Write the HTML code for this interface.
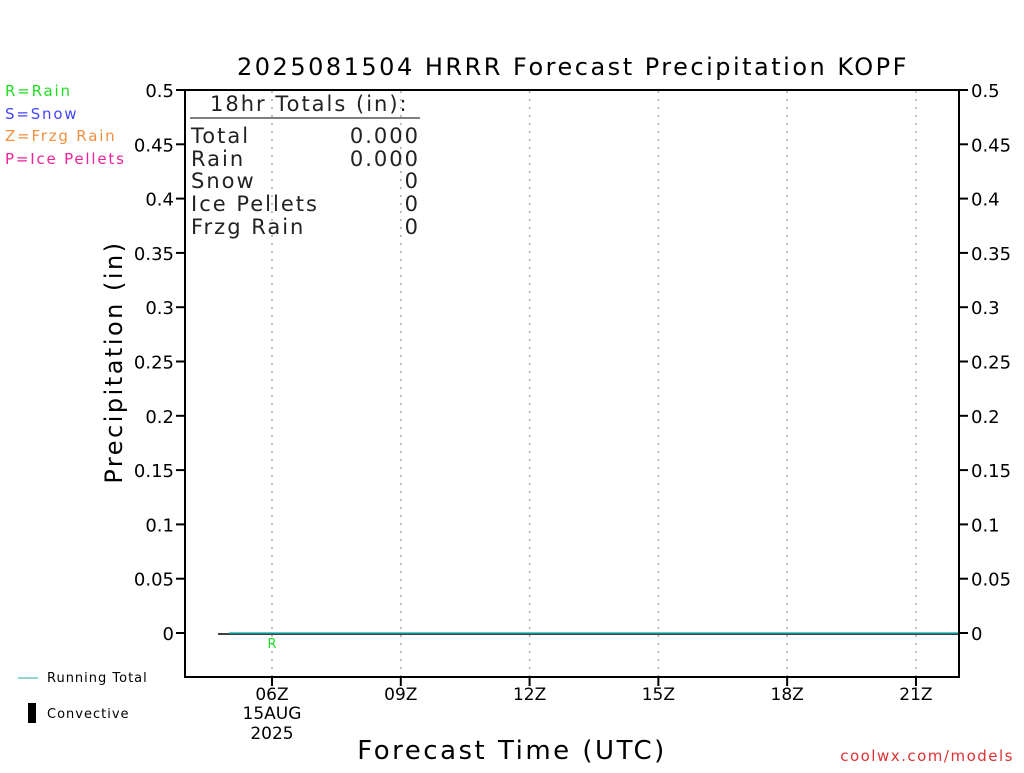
<!DOCTYPE html>
<html><head><meta charset="utf-8"><style>
body{margin:0;background:#fff;width:1024px;height:768px;overflow:hidden}
svg text{font-family:"DejaVu Sans","Liberation Sans",sans-serif}
</style></head><body>
<svg id="chart" width="1024" height="768" xmlns="http://www.w3.org/2000/svg">
<text x="573" y="75" font-size="24" text-anchor="middle" fill="#000" style="letter-spacing:2.5px">2025081504 HRRR Forecast Precipitation KOPF</text>
<g font-size="15" style="letter-spacing:1.8px">
<text x="5" y="96" fill="#22dd22">R=Rain</text>
<text x="5" y="119" fill="#4444ff">S=Snow</text>
<text x="5" y="141" fill="#f09040">Z=Frzg Rain</text>
<text x="5" y="164" fill="#ee2299">P=Ice Pellets</text>
</g>
<g id="grid"></g>
<g id="series"></g>
<rect x="185" y="90" width="774" height="587" fill="none" stroke="#000" stroke-width="2"/>
<g id="axes"></g>
<g font-size="21" fill="#222" style="letter-spacing:2px">
<text x="210" y="111">18hr Totals (in):</text>
<line x1="190" y1="118" x2="420" y2="118" stroke="#000" stroke-width="1"/>
<text x="191" y="143">Total</text><text x="420" y="143" text-anchor="end">0.000</text>
<text x="191" y="166">Rain</text><text x="420" y="166" text-anchor="end">0.000</text>
<text x="191" y="188">Snow</text><text x="420" y="188" text-anchor="end">0</text>
<text x="191" y="211">Ice Pellets</text><text x="420" y="211" text-anchor="end">0</text>
<text x="191" y="234">Frzg Rain</text><text x="420" y="234" text-anchor="end">0</text>
</g>
<text transform="translate(122,362) rotate(-90)" font-size="24" text-anchor="middle" style="letter-spacing:2.5px">Precipitation (in)</text>
<text x="512" y="759" font-size="26" text-anchor="middle" style="letter-spacing:2.5px">Forecast Time (UTC)</text>
<g font-size="13" style="letter-spacing:1px">
<line x1="18" y1="678" x2="38" y2="678" stroke="#22aaaa" stroke-width="1"/>
<text x="47" y="682">Running Total</text>
<rect x="28" y="703" width="8" height="20" fill="#000"/>
<text x="47" y="718">Convective</text>
</g>
<text x="1014" y="761" font-size="15" fill="#dd3333" text-anchor="end" style="letter-spacing:1.5px">coolwx.com/models</text>
</svg>
<script>
const hours=[5,6,7,8,9,10,11,12,13,14,15,16,17,18,19,20,21,22];
const runningTotal=[0,0,0,0,0,0,0,0,0,0,0,0,0,0,0,0,0,0];
const yTicks=[0,0.05,0.1,0.15,0.2,0.25,0.3,0.35,0.4,0.45,0.5];
const yLabels=["0","0.05","0.1","0.15","0.2","0.25","0.3","0.35","0.4","0.45","0.5"];
const xTicks=[6,9,12,15,18,21];
const xLabels=["06Z","09Z","12Z","15Z","18Z","21Z"];
const NS="http://www.w3.org/2000/svg";
const X=h=>272+(h-6)*42.93;
const Y=v=>633-v*1086;
function mk(tag,attrs,parent,txt){const e=document.createElementNS(NS,tag);for(const k in attrs)e.setAttribute(k,attrs[k]);if(txt!==undefined)e.textContent=txt;parent.appendChild(e);return e;}
const grid=document.getElementById('grid'),axes=document.getElementById('axes'),ser=document.getElementById('series');
yTicks.forEach((t,i)=>{
 const y=Y(t);
 const l=mk('line',{x1:176,y1:y,x2:185,y2:y,stroke:'#000','stroke-width':2},axes);
 
 
 const r=mk('line',{x1:959,y1:y,x2:968,y2:y,stroke:'#000','stroke-width':2},axes);
 
 
 const a=mk('text',{x:174,y:y+7,'font-size':18,'text-anchor':'end'},axes,yLabels[i]);
 
 
 const b=mk('text',{x:971,y:y+7,'font-size':18},axes,yLabels[i]);
 
 
});
xTicks.forEach((h,i)=>{
 const x=X(h);
 const g=mk('line',{x1:x,y1:91,x2:x,y2:676,stroke:'#aaa','stroke-width':1.5,'stroke-dasharray':'2,6'},grid);
 
 
 const t=mk('line',{x1:x,y1:677,x2:x,y2:686,stroke:'#000','stroke-width':2},axes);
 
 
 const lb=mk('text',{x:x,y:700,'font-size':17,'text-anchor':'middle'},axes,xLabels[i]);
 
 
});
const d1=mk('text',{x:X(6),y:719,'font-size':17,'text-anchor':'middle'},axes,'15AUG');


const d2=mk('text',{x:X(6),y:739,'font-size':17,'text-anchor':'middle'},axes,'2025');


const zl=mk('line',{x1:X(hours[0])-11,y1:Y(0)+1,x2:959,y2:Y(0)+1,stroke:'#000','stroke-width':1.5},ser);


const pts=hours.map((h,i)=>X(h)+','+Y(runningTotal[i])).join(' ');
const pl=mk('polyline',{points:pts,fill:'none',stroke:'#22bbbb','stroke-width':1.5},ser);


const rm=mk('text',{x:X(6),y:648,'font-size':13,fill:'#22dd22','text-anchor':'middle'},ser,'R');


</script>
</body></html>
